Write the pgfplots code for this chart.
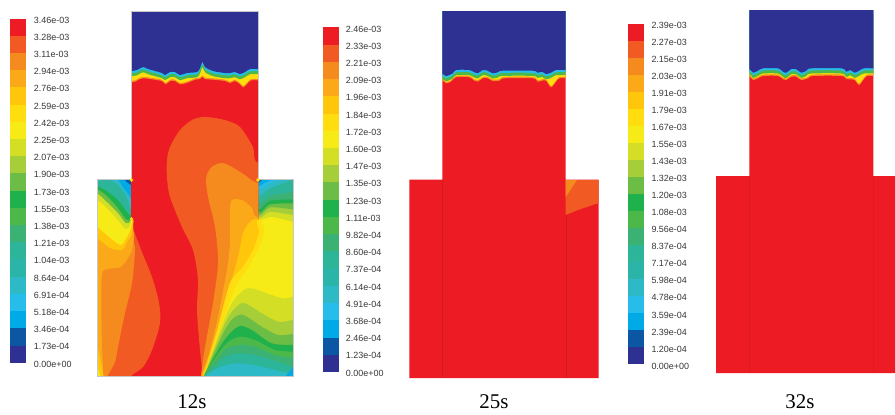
\documentclass[border=0pt]{standalone}
\usepackage{fontspec}
\setmainfont{Liberation Sans}
\newfontfamily\capfont{Liberation Serif}
\usepackage{pgfplots}
\usepackage{pgfplotstable}
\pgfplotsset{compat=1.18}

\definecolor{c1}{HTML}{ED1C24}
\definecolor{c2}{HTML}{F15A22}
\definecolor{c3}{HTML}{F58A1F}
\definecolor{c4}{HTML}{FBA919}
\definecolor{c5}{HTML}{FFC60B}
\definecolor{c6}{HTML}{FFDD0F}
\definecolor{c7}{HTML}{F6EB16}
\definecolor{c8}{HTML}{D4DE25}
\definecolor{c9}{HTML}{A5CE39}
\definecolor{c10}{HTML}{6BBD45}
\definecolor{c11}{HTML}{1FB14B}
\definecolor{c12}{HTML}{4DB84A}
\definecolor{c13}{HTML}{3BB273}
\definecolor{c14}{HTML}{2DB59A}
\definecolor{c15}{HTML}{2BB5A8}
\definecolor{c16}{HTML}{2DBAC6}
\definecolor{c17}{HTML}{27BDEA}
\definecolor{c18}{HTML}{00AAE7}
\definecolor{c19}{HTML}{0B57A4}
\definecolor{c20}{HTML}{2E3192}

% all axes use the pixel coordinates of the picture
\pgfplotsset{
  px/.style={hide axis, disabledatascaling, x=1bp, y=1bp, y dir=reverse,
    anchor=north west, enlargelimits=false},
  flat/.style={draw=none, fill=#1, forget plot},
  soft/.style={draw=none, fill=#1, smooth, tension=0.5, forget plot},
  ticktext/.style={only marks, mark=none, point meta=explicit symbolic,
    nodes near coords,
    nodes near coords style={anchor=west, inner sep=0pt, text=black!78,
      font=\fontsize{9}{9}\selectfont}},
}

% one cell of each of the three colour bars
\newcommand\cb[7]{
  \addplot[flat=#1] coordinates {(9.7,#2) (26.3,#2) (26.3,#3) (9.7,#3)} --cycle;
  \addplot[flat=#1] coordinates {(322.7,#4) (338.7,#4) (338.7,#5) (322.7,#5)} --cycle;
  \addplot[flat=#1] coordinates {(627.7,#6) (644,#6) (644,#7) (627.7,#7)} --cycle;
}

% the front between the blue top and the red body
\newcommand\front[2]{
  \addplot[soft=c3] table {#2} --cycle;
  \addplot[soft=c6, yshift=1.4bp] table {#2} --cycle;
  \addplot[soft=c12, yshift=-5.2bp] table {#1} --cycle;
  \addplot[soft=c17, yshift=-2.2bp] table {#1} --cycle;
  \addplot[soft=c20] table {#1} --cycle;
}

\pgfplotstableread{
x y
121 5
121 71
131 71
137 70
143 67
148 69
162 73
165 75
170 72
175 72
180 75
187 73
197 72
200 68
202.5 62
205 67
213 71
225 73
230 73
235 72
240 74
245 72
250 69
258 69
268 69
268 5
}\topA
\pgfplotstableread{
x y
121 40
121 82.3
131 82.3
135 81.7
140 79
145 78.3
150 79
161.7 81
165.7 84.3
170 81
175 81
180 84.3
186.7 83
195 79.7
200 79
202.3 76.7
205 79
213.3 79.7
225 81
230 83
235 81
240 84.3
243.3 87.3
246.7 84.3
251 80.3
258 80.3
268 80.3
268 40
}\botA
\pgfplotstableread{
x y
432 5
432 74
442.7 74
446 76
452.7 73.3
456 70
469.3 70
474.3 72.3
477.7 73.3
482.7 70
487.7 70.7
492.7 73.3
497.7 72.3
502.7 70.7
532.7 70.7
537.7 72.7
542 71.7
546 74
551 72.7
556 70
565.7 70
575 70
575 5
}\topB
\pgfplotstableread{
x y
432 40
432 80.7
442.7 80.7
446 83.3
451 81.7
456 77.3
469.3 77.3
474.3 80.7
477.7 81.7
482.7 78.3
487.7 78.3
492.7 81
499.3 80.7
504.3 78.3
532.7 78.3
537.7 81.7
542 80.7
546 80.7
551 87.3
556 81.7
559.3 78.3
565.7 78.3
575 78.3
575 40
}\botB
\pgfplotstableread{
x y
740 5
740 69.3
749.7 69.3
753 72.7
758 70.7
763 68.3
778 68.3
783 71.7
786.3 72.7
791.3 69
796.3 69.3
801.3 72.7
806.3 70.7
811.3 68.3
841.3 68.3
846.3 71.7
850.3 70
854.7 72.7
859 70.7
863.7 68.3
873.3 68.3
883 68.3
883 5
}\topC
\pgfplotstableread{
x y
740 40
740 76.7
749.7 76.7
753 80
758 78.3
763 76
778 76
783 79.3
786.3 80
791.3 76.7
796.3 76.7
801.3 80
808 78.3
813 76
841.3 76
846.3 79
851.3 79.3
854.7 80
859 85
863.7 79.3
867 76
873.3 76
883 76
883 40
}\botC

\pgfplotstableread{
x y l
33.7 20 3.46e-03
33.7 37.2 3.28e-03
33.7 54.4 3.11e-03
33.7 71.6 2.94e-03
33.7 88.8 2.76e-03
33.7 106 2.59e-03
33.7 123.2 2.42e-03
33.7 140.4 2.25e-03
33.7 157.6 2.07e-03
33.7 174.8 1.90e-03
33.7 192 1.73e-03
33.7 209.2 1.55e-03
33.7 226.4 1.38e-03
33.7 243.6 1.21e-03
33.7 260.8 1.04e-03
33.7 278 8.64e-04
33.7 295.2 6.91e-04
33.7 312.4 5.18e-04
33.7 329.6 3.46e-04
33.7 346.8 1.73e-04
33.7 364 0.00e+00
}\ticksA
\pgfplotstableread{
x y l
345.7 29 2.46e-03
345.7 46.2 2.33e-03
345.7 63.4 2.21e-03
345.7 80.6 2.09e-03
345.7 97.8 1.96e-03
345.7 115 1.84e-03
345.7 132.2 1.72e-03
345.7 149.4 1.60e-03
345.7 166.6 1.47e-03
345.7 183.8 1.35e-03
345.7 201 1.23e-03
345.7 218.2 1.11e-03
345.7 235.4 9.82e-04
345.7 252.6 8.60e-04
345.7 269.8 7.37e-04
345.7 287 6.14e-04
345.7 304.2 4.91e-04
345.7 321.4 3.68e-04
345.7 338.6 2.46e-04
345.7 355.8 1.23e-04
345.7 373 0.00e+00
}\ticksB
\pgfplotstableread{
x y l
651.3 25.3 2.39e-03
651.3 42.3 2.27e-03
651.3 59.4 2.15e-03
651.3 76.4 2.03e-03
651.3 93.4 1.91e-03
651.3 110.5 1.79e-03
651.3 127.5 1.67e-03
651.3 144.5 1.55e-03
651.3 161.6 1.43e-03
651.3 178.6 1.32e-03
651.3 195.6 1.20e-03
651.3 212.7 1.08e-03
651.3 229.7 9.56e-04
651.3 246.7 8.37e-04
651.3 263.8 7.17e-04
651.3 280.8 5.98e-04
651.3 297.8 4.78e-04
651.3 314.9 3.59e-04
651.3 331.9 2.39e-04
651.3 348.9 1.20e-04
651.3 366 0.00e+00
}\ticksC

% contours of the 12s field that run through the neck and the lower part
\newcommand\corefield{
  \addplot[flat=c1] coordinates {(90,5) (300,5) (300,380) (90,380)} --cycle;
  \addplot[soft=c2] coordinates {(203,380) (203,376) (200,350) (197,310) (198,280) (193,250) (182,227) (170,197) (167,178) (167,160) (170,147) (180,130) (192,120) (203,117) (215,118) (228,121) (240,127) (253,147) (258,163) (300,170) (300,380)} --cycle;
  \addplot[soft=c3] coordinates {(201,380) (201,375) (205,347) (213,303) (218,263) (215,227) (208,197) (206,180) (208,172) (213,166) (222,163) (232,167) (245,175) (258,183) (300,190) (300,380)} --cycle;
  \addplot[soft=c4] coordinates {(202,380) (202,374) (208,357) (218,317) (228,263) (230,237) (230,210) (232,200) (242,200) (252,208) (258,217) (300,217) (300,380)} --cycle;
  \addplot[soft=c5] coordinates {(203,380) (203,373) (212,347) (226,300) (238,257) (243,233) (250,222) (258,219) (300,219) (300,380)} --cycle;
  \addplot[soft=c6] coordinates {(204,380) (205,373) (218,327) (230,283) (242,268) (253,250) (259,232) (259,219) (300,219) (300,380)} --cycle;
  \addplot[soft=c7] coordinates {(206,380) (207,373) (222,325) (235,288) (248,268) (258,250) (264,232) (264,218) (300,218) (300,380)} --cycle;
}

\begin{document}
\begin{tikzpicture}

% colour bars, tick texts, captions, plain red bodies of 25s and 32s
\begin{axis}[px, name=main, at={(0,0)}, xmin=0, xmax=895, ymin=0, ymax=414, clip=false]
  \addplot[flat=white] coordinates {(0,0) (895,0) (895,414) (0,414)} --cycle;
  \cb{c1}{18.5}{35.7}{27.3}{44.5}{23.5}{40.5}
  \cb{c2}{35.7}{52.9}{44.5}{61.8}{40.5}{57.6}
  \cb{c3}{52.9}{70.1}{61.8}{79}{57.6}{74.6}
  \cb{c4}{70.1}{87.3}{79}{96.2}{74.6}{91.6}
  \cb{c5}{87.3}{104.6}{96.2}{113.5}{91.6}{108.6}
  \cb{c6}{104.6}{121.8}{113.5}{130.7}{108.6}{125.7}
  \cb{c7}{121.8}{139}{130.7}{147.9}{125.7}{142.7}
  \cb{c8}{139}{156.2}{147.9}{165.2}{142.7}{159.7}
  \cb{c9}{156.2}{173.4}{165.2}{182.4}{159.7}{176.7}
  \cb{c10}{173.4}{190.6}{182.4}{199.7}{176.7}{193.8}
  \cb{c11}{190.6}{207.8}{199.7}{216.9}{193.8}{210.8}
  \cb{c12}{207.8}{225}{216.9}{234.1}{210.8}{227.8}
  \cb{c13}{225}{242.2}{234.1}{251.4}{227.8}{244.8}
  \cb{c14}{242.2}{259.4}{251.4}{268.6}{244.8}{261.9}
  \cb{c15}{259.4}{276.7}{268.6}{285.8}{261.9}{278.9}
  \cb{c16}{276.7}{293.9}{285.8}{303.1}{278.9}{295.9}
  \cb{c17}{293.9}{311.1}{303.1}{320.3}{295.9}{312.9}
  \cb{c18}{311.1}{328.3}{320.3}{337.5}{312.9}{329.9}
  \cb{c19}{328.3}{345.5}{337.5}{354.8}{329.9}{347}
  \cb{c20}{345.5}{362.7}{354.8}{372}{347}{364}
  \addplot[ticktext] table[x=x, y=y, meta=l] {\ticksA};
  \addplot[ticktext] table[x=x, y=y, meta=l] {\ticksB};
  \addplot[ticktext] table[x=x, y=y, meta=l] {\ticksC};
  \addplot[flat=c1] coordinates {(409.3,179.5) (442.3,179.5) (442.3,14) (565.7,14) (565.7,179.5) (598.7,179.5) (598.7,378) (409.3,378)} --cycle;
  \addplot[flat=c2] coordinates {(565.7,180) (598.7,180) (598.7,203) (578,210) (565.7,215)} --cycle;
  \addplot[flat=c3] coordinates {(565.7,180) (577,180) (565.7,197)} --cycle;
  \addplot[flat=c1] coordinates {(716,176) (749.3,176) (749.3,14) (873.3,14) (873.3,176) (895,176) (895,373) (716,373)} --cycle;
  \node[font=\capfont\fontsize{21}{21}\selectfont, text=black] at (axis cs:192,402) {12s};
  \node[font=\capfont\fontsize{21}{21}\selectfont, text=black] at (axis cs:494,402) {25s};
  \node[font=\capfont\fontsize{21}{21}\selectfont, text=black] at (axis cs:800,402) {32s};
\end{axis}

% 12s, lower part
\begin{axis}[px, at={(97bp,-179bp)}, xmin=97, xmax=293, ymin=179, ymax=376]
  \corefield
  % below the right bay: bands rising from the outlet corner
  \addplot[soft=c8] coordinates {(205,380) (205,373) (228.3,310) (241.7,291.7) (251.7,288.3) (271.7,295) (283.3,298.3) (293.3,296.7) (300,296) (300,380)} --cycle;
  \addplot[soft=c9] coordinates {(205,380) (205,374) (225,323) (236.7,306.7) (245,303.3) (261.7,313.3) (278.3,321.7) (293.3,320) (300,320) (300,380)} --cycle;
  \addplot[soft=c10] coordinates {(205,380) (205,374) (223.3,333) (233.3,318.3) (243.3,315) (261.7,326.7) (278.3,335) (293,334) (300,334) (300,380)} --cycle;
  \addplot[soft=c11] coordinates {(205,380) (205,374) (220,346.7) (230,333.3) (240,326) (251.7,330) (271.7,343.3) (293.3,345) (300,345) (300,380)} --cycle;
  \addplot[soft=c12] coordinates {(205,380) (205,374) (218.3,353.3) (228.3,341.7) (240,336.7) (255,340) (275,350) (293.3,351.7) (300,352) (300,380)} --cycle;
  \addplot[soft=c13] coordinates {(205,380) (205,374) (216.7,360) (226.7,348.3) (240,345) (255,346.7) (275,355) (293.3,358.3) (300,359) (300,380)} --cycle;
  \addplot[soft=c14] coordinates {(205.7,380) (205.7,374.7) (215,366.7) (225,356.7) (240,353.3) (261.7,356.7) (293.3,366.7) (300,368) (300,380)} --cycle;
  \addplot[soft=c16] coordinates {(206.7,380) (206.7,375) (221.7,366.7) (238.3,363.3) (261.7,366.7) (288,373) (300,372) (300,380)} --cycle;
  \addplot[flat=c18] coordinates {(286,376) (293,367) (293,376)} --cycle;
  % left bay and the column under it
  \addplot[soft=c2] coordinates {(90,170) (131,170) (131.7,220) (140,247) (152,277) (159,303) (160,323) (152,350) (143,367) (132,375) (130,380) (90,380)} --cycle;
  \addplot[soft=c3] coordinates {(90,170) (131,170) (133,235) (135,250) (132,283) (125,313) (118,347) (115,362) (108,375) (105,380) (90,380)} --cycle;
  \addplot[soft=c4] coordinates {(90,380) (100,380) (103,373) (101.7,336.7) (101.7,276.7) (106.7,269.3) (120,267.3) (126.7,260) (132,250) (134,235) (131,219) (131,170) (90,170)} --cycle;
  \addplot[soft=c5] coordinates {(90,346.7) (97.3,346.7) (103.3,375) (103,380) (90,380)} --cycle;
  \addplot[soft=c7] coordinates {(90,367) (97,367) (100,375) (100,380) (90,380)} --cycle;
  \addplot[soft=c5] coordinates {(90,238) (97,238) (110,248) (122,250) (127,242) (133,227) (131,170) (90,170)} --cycle;
  \addplot[soft=c7] coordinates {(90,227) (97,227) (107,235) (120,245) (125,240) (132,222) (131,170) (90,170)} --cycle;
  \addplot[soft=c8] coordinates {(90,200) (97,200) (107,208) (118,220) (126,229) (131,220) (131,170) (90,170)} --cycle;
  \addplot[soft=c10] coordinates {(90,193) (97,193) (107,202) (118,213) (126,223) (131,217) (131,170) (90,170)} --cycle;
  \addplot[soft=c11] coordinates {(90,189) (97,189) (107,196) (118,208) (126,219) (131,216) (131,170) (90,170)} --cycle;
  \addplot[soft=c14] coordinates {(90,186) (97,186) (107,191) (118,200) (127,212) (131,212) (131,170) (90,170)} --cycle;
  \addplot[soft=c16] coordinates {(90,181) (97,181) (110,180) (120,187) (127,198) (131,207) (131,170) (90,170)} --cycle;
  \addplot[flat=c18] coordinates {(118,179) (123,187) (131,198) (131,179)} --cycle;
  \addplot[flat=c19] coordinates {(124,179) (128,183) (131,185) (131,179)} --cycle;
  % right bay
  \addplot[soft=c8] coordinates {(258.3,170) (258.3,216.7) (271.7,216.7) (293.3,221.7) (300,222) (300,170)} --cycle;
  \addplot[soft=c9] coordinates {(258.3,170) (258.3,216) (270,211.7) (293.3,215) (300,215) (300,170)} --cycle;
  \addplot[soft=c10] coordinates {(258.3,170) (258.3,214.3) (270,207.3) (293.3,209.3) (300,209) (300,170)} --cycle;
  \addplot[soft=c11] coordinates {(258.3,170) (258.3,211.7) (270,204.3) (293.3,203.3) (300,203) (300,170)} --cycle;
  \addplot[soft=c13] coordinates {(258.3,170) (258.3,208.3) (270,200.7) (293.3,199.3) (300,199) (300,170)} --cycle;
  \addplot[soft=c14] coordinates {(258.3,170) (258.3,203.3) (270,196) (293.3,191.7) (300,190) (300,170)} --cycle;
  \addplot[soft=c16] coordinates {(258.3,170) (258.3,195) (270,188.3) (293.3,179) (300,175) (300,170)} --cycle;
  \addplot[flat=c17] coordinates {(258.3,179) (258.3,190) (266.7,185) (278.3,179)} --cycle;
  \addplot[flat=c18] coordinates {(258.3,179) (258.3,186.7) (265,182.7) (273.3,179)} --cycle;
  \addplot[flat=c19] coordinates {(258.3,179) (258.3,182.7) (263.3,179)} --cycle;
\end{axis}

% 12s, upper part, down to the end of the walls
\begin{axis}[px, at={(131bp,-11bp)}, xmin=131, xmax=258.3, ymin=11, ymax=219]
  \corefield
  \front{\topA}{\botA}
\end{axis}

% fronts of 25s and 32s
\begin{axis}[px, at={(442.3bp,-11.5bp)}, xmin=442.3, xmax=565.7, ymin=11.5, ymax=179]
  \front{\topB}{\botB}
\end{axis}
\begin{axis}[px, at={(749.3bp,-10.5bp)}, xmin=749.3, xmax=873.3, ymin=10.5, ymax=175]
  \front{\topC}{\botC}
\end{axis}

% thin outlines, wall ends
\begin{axis}[px, at={(0,0)}, xmin=0, xmax=895, ymin=0, ymax=414, clip=false]
  \addplot[forget plot, line width=0.5bp, color=black!22!white] coordinates {(131,179) (131,11) (258.3,11) (258.3,179) (293,179) (293,376) (97,376) (97,179) (131,179)};
  \addplot[forget plot, line width=0.4bp, color=c1!90!black] coordinates {(442.3,180) (442.3,378)};
  \addplot[forget plot, line width=0.4bp, color=c1!90!black] coordinates {(565.7,215) (565.7,378)};
  \addplot[forget plot, line width=0.4bp, color=c1!93!black] coordinates {(749.3,176) (749.3,373)};
  \addplot[forget plot, line width=0.4bp, color=c1!93!black] coordinates {(873.3,176) (873.3,373)};
  \addplot[forget plot, only marks, mark=*, mark size=1.7bp, color=c6] coordinates {(131.5,180) (258,180) (131.5,219)};
\end{axis}
\end{tikzpicture}
\end{document}
